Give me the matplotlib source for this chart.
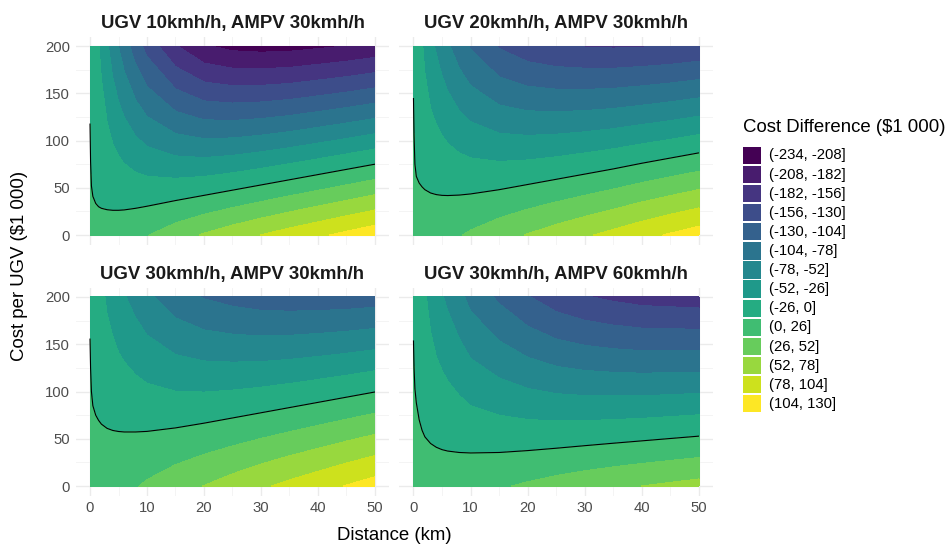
import numpy as np
import matplotlib
matplotlib.use("Agg")
import matplotlib.pyplot as plt
from matplotlib.patches import Rectangle

plt.rcParams["font.family"] = ["Liberation Sans", "DejaVu Sans"]

W, H = 948, 547

distance_km = [0, 0.1, 0.25, 0.5, 1, 1.5, 2, 3, 4, 5, 6, 8, 10, 15, 20, 25, 30, 35, 40, 45, 50]
cost_ugv = [0, 200]

# UGV cost ($1 000) at which the difference is zero (black line)
zero_cost_1 = [118, 78, 52, 41, 33.5, 30, 28.3, 26.8, 26.2, 26.2, 26.6, 28.3, 30.5, 36.5, 42, 47.5, 53, 58.5, 64, 69.5, 75]
zero_cost_2 = [145, 105, 75, 62, 55, 51, 48, 44.5, 42.8, 42, 41.8, 42.3, 43.5, 48, 53.5, 59, 64.5, 70, 76, 81.5, 87]
zero_cost_3 = [156, 125, 100, 85, 75, 69.5, 65.5, 61, 58.8, 57.7, 57.2, 57.2, 57.8, 61.5, 66.5, 72, 77.5, 83, 88.5, 94, 99.5]
zero_cost_4 = [154, 125, 103, 88, 70, 59, 52, 45, 41, 38.5, 37, 35.5, 35, 35.5, 37.5, 40, 42.7, 45.3, 47.8, 50.3, 52.8]

# drop in cost difference per $1 000 of UGV cost (from band spacing)
slope_1 = [0.005, 0.014, 0.028, 0.05, 0.098, 0.145, 0.19, 0.28, 0.37, 0.45, 0.53, 0.68, 0.82, 1.1, 1.3, 1.41, 1.48, 1.53, 1.56, 1.59, 1.61]
slope_2 = [0.005, 0.015, 0.03, 0.055, 0.11, 0.16, 0.21, 0.29, 0.35, 0.41, 0.47, 0.58, 0.68, 0.87, 1.0, 1.09, 1.16, 1.22, 1.27, 1.31, 1.34]
slope_3 = [0.004, 0.01, 0.02, 0.038, 0.075, 0.112, 0.147, 0.215, 0.26, 0.31, 0.35, 0.43, 0.51, 0.67, 0.79, 0.88, 0.96, 1.02, 1.07, 1.12, 1.16]
slope_4 = [0.004, 0.01, 0.02, 0.04, 0.08, 0.118, 0.155, 0.22, 0.27, 0.31, 0.35, 0.43, 0.52, 0.66, 0.79, 0.9, 0.98, 1.04, 1.09, 1.12, 1.15]

titles = ["UGV 10kmh/h, AMPV 30kmh/h", "UGV 20kmh/h, AMPV 30kmh/h",
          "UGV 30kmh/h, AMPV 30kmh/h", "UGV 30kmh/h, AMPV 60kmh/h"]

levels = [-234, -208, -182, -156, -130, -104, -78, -52, -26, 0, 26, 52, 78, 104, 130]
x_ticks = [0, 10, 20, 30, 40, 50]
y_ticks = [0, 50, 100, 150, 200]

colors = plt.cm.viridis(np.linspace(0, 1, len(levels) - 1))

fig = plt.figure(figsize=(W / 100, H / 100), dpi=100)


def add_axes_px(x0, x1, ytop, ybot):
    return fig.add_axes([x0 / W, 1 - ybot / H, (x1 - x0) / W, (ybot - ytop) / H])


# panel boxes in pixels: (left, right, top, bottom)
boxes = [(75.75, 389.25, 36.6, 244.5), (399.2, 713.3, 36.6, 244.5),
         (75.75, 389.25, 287.5, 495.5), (399.2, 713.3, 287.5, 495.5)]
fields = [(zero_cost_1, slope_1), (zero_cost_2, slope_2),
          (zero_cost_3, slope_3), (zero_cost_4, slope_4)]

tick_color = "#4D4D4D"
for i, (box, (zc, sl), title) in enumerate(zip(boxes, fields, titles)):
    ax = add_axes_px(*box)
    z = np.outer(np.ones(len(cost_ugv)), sl) * (np.array(zc)[None, :] - np.array(cost_ugv)[:, None])
    ax.contourf(distance_km, cost_ugv, z, levels=levels, colors=colors)
    ax.contour(distance_km, cost_ugv, z, levels=[0], colors="black", linewidths=0.8)

    ax.set_xlim(-2.5, 52.5)
    ax.set_ylim(-10, 210)
    ax.set_xticks(x_ticks)
    ax.set_xticks([5, 15, 25, 35, 45], minor=True)
    ax.set_yticks(y_ticks)
    ax.set_yticks([25, 75, 125, 175], minor=True)
    ax.grid(which="major", color="#EBEBEB", linewidth=1.0)
    ax.grid(which="minor", color="#F2F2F2", linewidth=0.6)
    ax.set_axisbelow(True)
    for s in ax.spines.values():
        s.set_visible(False)
    ax.tick_params(which="both", length=0, labelsize=10.75, labelcolor=tick_color, pad=4)
    if i < 2:
        ax.set_xticklabels([])
    if i % 2 == 1:
        ax.set_yticklabels([])
    ax.set_title(title, fontsize=13.4, fontweight="bold", color="#1A1A1A", pad=6)

fig.text(20 / W, 1 - 266 / H, "Cost per UGV (\\$1 000)", rotation=90,
         ha="center", va="center", fontsize=13.4)
fig.text(394.5 / W, 1 - 535 / H, "Distance (km)", ha="center", va="center", fontsize=13.4)

# legend drawn in pixel coordinates
lax = fig.add_axes([0, 0, 1, 1])
lax.set_xlim(0, W)
lax.set_ylim(H, 0)
lax.axis("off")
lax.text(743, 127, "Cost Difference (\\$1 000)", ha="left", va="center", fontsize=13.4)
for k in range(len(levels) - 1):
    y0 = 146.7 + k * 19.1
    lax.add_patch(Rectangle((743, y0), 18, 17.3, facecolor=colors[k], edgecolor="none"))
    lax.text(769, y0 + 8.8, f"({levels[k]}, {levels[k + 1]}]", ha="left", va="center",
             fontsize=10.75)

fig.savefig("out.png", dpi=100)
